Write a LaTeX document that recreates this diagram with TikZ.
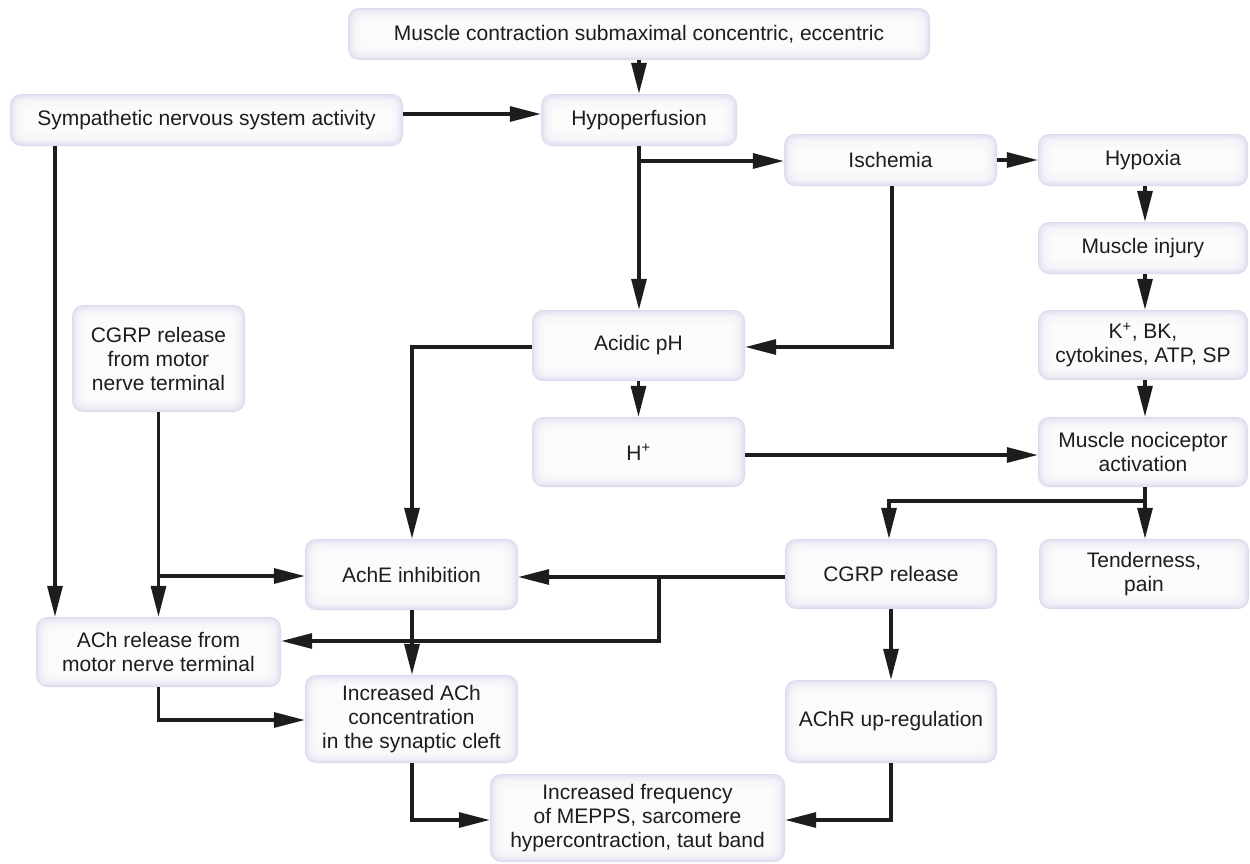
\documentclass[tikz,border=0pt]{standalone}
\usepackage{fontspec}
\setmainfont{Liberation Sans}
\usetikzlibrary{arrows.meta,calc}
\definecolor{boxlav}{RGB}{218,220,238}
\definecolor{ink}{RGB}{30,28,28}
\tikzset{
  box/.style={shape=rectangle, rounded corners=11pt, fill=boxlav, inner sep=0pt, align=center, text=ink,
    font=\fontsize{21}{24}\selectfont,
    path picture={
      \foreach \i in {1,...,11}{
        \fill[white, opacity=0.22, rounded corners=9pt]
          ($(path picture bounding box.south west)+(\i*1.15pt,\i*1.15pt)$) rectangle
          ($(path picture bounding box.north east)-(\i*1.15pt,\i*1.15pt)$);
      }
    }},
  arr/.style={draw=ink, line width=3.2pt, -{Triangle[length=31pt,width=15pt]}},
  ln/.style={draw=ink, line width=3.2pt}
}
\begin{document}
\begin{tikzpicture}[x=1pt,y=-1pt]
\useasboundingbox (0,0) rectangle (1250,863);
% nodes
\node[box, minimum width=582pt, minimum height=52pt] (mc) at (639,34) {Muscle contraction submaximal concentric, eccentric};
\node[box, minimum width=393pt, minimum height=52pt] (sym) at (206.5,120) {Sympathetic nervous system activity};
\node[box, minimum width=196pt, minimum height=52pt] (hyp) at (639,120) {Hypoperfusion};
\node[box, minimum width=213pt, minimum height=52pt] (isc) at (890.5,160) {Ischemia};
\node[box, minimum width=210pt, minimum height=52pt] (hypx) at (1143,160) {Hypoxia};
\node[box, minimum width=210pt, minimum height=52pt] (inj) at (1143,248) {Muscle injury};
\node[box, minimum width=210pt, minimum height=70pt] (kbk) at (1143,345) {K\textsuperscript{+}, BK,\\cytokines, ATP, SP};
\node[box, minimum width=210pt, minimum height=70pt] (noc) at (1143,452) {Muscle nociceptor\\activation};
\node[box, minimum width=210pt, minimum height=70pt] (tend) at (1144,574) {Tenderness,\\pain};
\node[box, minimum width=212pt, minimum height=70pt] (cgrp) at (891,574) {CGRP release};
\node[box, minimum width=212pt, minimum height=83pt] (achr) at (891,721.5) {AChR up-regulation};
\node[box, minimum width=295pt, minimum height=88pt] (freq) at (637.5,818) {Increased frequency\\of MEPPS, sarcomere\\hypercontraction, taut band};
\node[box, minimum width=213pt, minimum height=88pt] (incach) at (411.5,719) {Increased ACh\\concentration\\in the synaptic cleft};
\node[box, minimum width=245pt, minimum height=70pt] (achrel) at (158.5,652) {ACh release from\\motor nerve terminal};
\node[box, minimum width=213pt, minimum height=71pt] (ache) at (411.5,574.5) {AchE inhibition};
\node[box, minimum width=173pt, minimum height=107pt] (cgrpm) at (158.5,358.5) {CGRP release\\from motor\\nerve terminal};
\node[box, minimum width=213pt, minimum height=71pt] (acid) at (638.5,345.5) {Acidic pH};
\node[box, minimum width=213pt, minimum height=70pt] (hplus) at (638.5,452) {H\textsuperscript{+}};
% connectors
\draw[arr] (mc.south) -- (hyp.north);
\draw[arr] (sym.east |- 0,114) -- (hyp.west |- 0,114);
\draw[arr] (sym.south -| 55,0) -- (achrel.north -| 55,0);
\draw[arr] (hyp.south) -- (hyp.south |- acid.north);
\draw[arr] (hyp.south |- 0,161) -- (isc.west |- 0,161);
\draw[arr] (isc.east) -- (hypx.west);
\draw[arr] (isc.south -| 892,0) |- (acid.east |- 0,347);
\draw[arr] (hypx.south -| 1145,0) -- (inj.north -| 1145,0);
\draw[arr] (inj.south -| 1145,0) -- (kbk.north -| 1145,0);
\draw[arr] (kbk.south -| 1145,0) -- (noc.north -| 1145,0);
\draw[arr] (hplus.east |- 0,455) -- (noc.west |- 0,455);
\draw[arr] (noc.south -| 1145,0) -- (tend.north -| 1145,0);
\coordinate (nb) at (1145,501);
\draw[arr] (nb) -| (cgrp.north -| 889,0);
\draw[arr] (acid.west |- 0,347) -| (ache.north -| 412,0);
\draw[arr] (acid.south) -- (hplus.north);
\draw[arr] (cgrp.west |- 0,577) -- (ache.east |- 0,577);
\coordinate (cb) at (659,577);
\draw[arr] (cb) |- (achrel.east |- 0,641);
\draw[arr] (cgrp.south) -- (achr.north);
\draw[arr] (achr.south) |- (freq.east |- 0,820);
\draw[arr] (cgrpm.south) -- (cgrpm.south |- achrel.north);
\coordinate (mb) at (158.5,576);
\draw[arr] (mb) -- (ache.west |- 0,576);
\draw[arr] (ache.south -| 412,0) -- (incach.north -| 412,0);
\draw[arr] (achrel.south) |- (incach.west |- 0,720);
\draw[arr] (incach.south -| 412,0) |- (freq.west |- 0,820);
\end{tikzpicture}
\end{document}
